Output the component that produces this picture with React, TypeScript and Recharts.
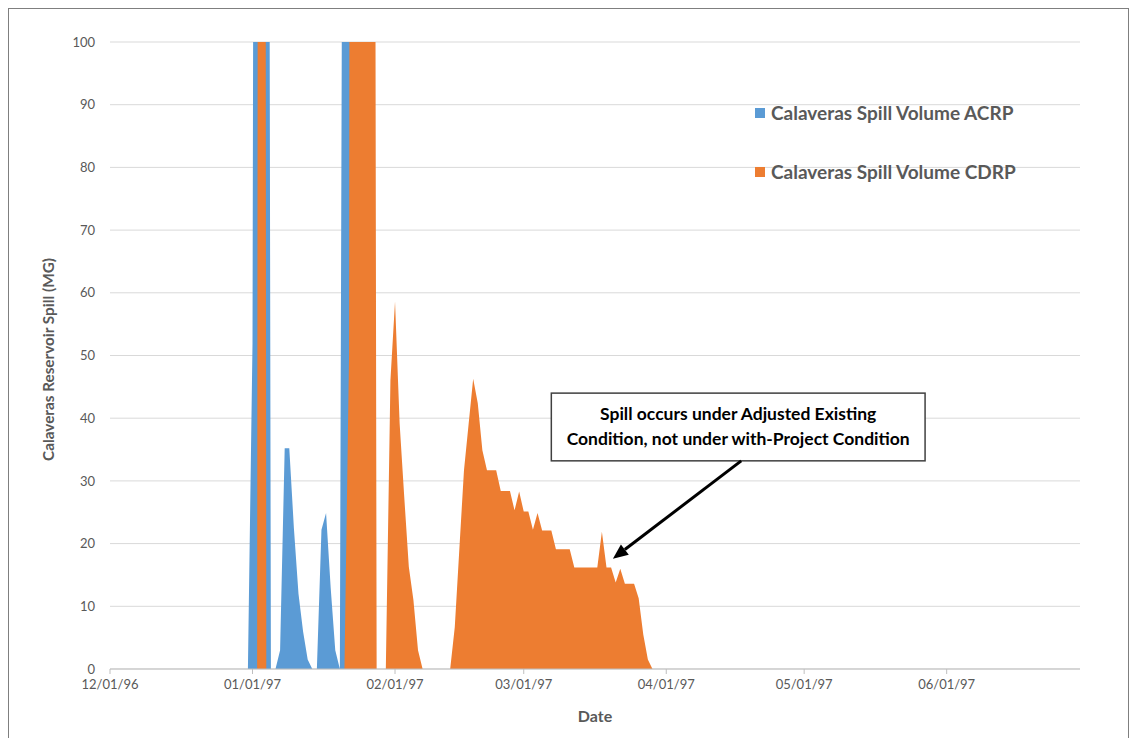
import React from 'react';
import { AreaChart, Area, XAxis, YAxis, CartesianGrid, Legend, ReferenceArea, ReferenceLine } from 'recharts';

// x axis: days counted from 12/01/96
const tickDays = [0, 31, 62, 90, 121, 151, 182];
const tickLabels = ['12/01/96', '01/01/97', '02/01/97', '03/01/97', '04/01/97', '05/01/97', '06/01/97'];
const yTicks = [0, 10, 20, 30, 40, 50, 60, 70, 80, 90, 100];

// daily values start at 12/31/96 (day 30)
const firstDay = 30;

const acrp = [
  0, 52, 420, 610, 380, 0, // 30-35
  0, 3, 35.2, 35.2, 22.5, 12, 6, 1.5, 0, // 36-44
  0, 22.2, 24.9, 13, 3, 0, // 45-50
  240, 520, 690, 560, 330, 180, 0, // 51-57
];

const cdrp = [
  0, 0, 0, 850, 0, // 30-34
  0, 0, 0, 0, 0, 0, 0, 0, 0, 0, 0, 0, 0, 0, 0, 0, // 35-50
  0, 50, 720, 940, 800, 560, 410, 0, 0, // 51-59
  0, 46, 58.6, 39.2, 27.5, 16.3, 11, 3, 0, // 60-68
  0, 0, 0, 0, 0, 0, // 69-74
  6.7, 19.2, 31.7, 39, 46.3, 42.4, 34.9, 31.7, 31.7, 31.7, // 75-84
  28.4, 28.4, 28.4, 25.3, 28.3, 25.1, 25.1, 22.2, 24.9, 22.1, // 85-94
  22.1, 22.1, 19.1, 19.1, 19.1, 19.1, 16.2, 16.2, 16.2, 16.2, // 95-104
  16.2, 16.2, 21.9, 16.2, 16.2, 13.8, 16.0, 13.6, 13.6, 13.6, // 105-114
  11.3, 5.5, 1.5, 0, // 115-118
];

const noteLines = ['Spill occurs under Adjusted Existing', 'Condition, not under with-Project Condition'];

const data = cdrp.map((v, i) => ({
  day: firstDay + i,
  acrp: i < acrp.length ? acrp[i] : null,
  cdrp: v,
}));

const BLUE = '#5B9BD5';
const ORANGE = '#ED7D31';
const GREY = '#595959';
const FONT = 'Lato, "Open Sans", sans-serif';

const Arrow = (props: any) => {
  const { x1, y1, x2, y2 } = props;
  const ang = Math.atan2(y2 - y1, x2 - x1);
  const len = 15;
  const half = 6.5;
  const bx = x2 - len * Math.cos(ang);
  const by = y2 - len * Math.sin(ang);
  const px = -Math.sin(ang) * half;
  const py = Math.cos(ang) * half;
  return (
    <g>
      <line x1={x1} y1={y1} x2={bx} y2={by} stroke="#000" strokeWidth={3} />
      <polygon points={`${x2},${y2} ${bx + px},${by + py} ${bx - px},${by - py}`} fill="#000" />
    </g>
  );
};

const NoteBox = (props: any) => {
  const { x, y, width, height } = props;
  const cx = x + width / 2;
  const cy = y + height / 2;
  return (
    <g>
      <rect x={x} y={y} width={width} height={height} fill="#fff" stroke="#404040" strokeWidth={1.5} />
      <text x={cx} y={cy - 13} textAnchor="middle" dominantBaseline="central" fontSize={17.5} fontWeight="bold" fontFamily={FONT} fill="#000">
        {noteLines[0]}
      </text>
      <text x={cx} y={cy + 12} textAnchor="middle" dominantBaseline="central" fontSize={17.5} fontWeight="bold" fontFamily={FONT} fill="#000">
        {noteLines[1]}
      </text>
    </g>
  );
};

const renderLegend = (props: any) => {
  const { payload } = props;
  return (
    <div style={{ fontFamily: FONT }}>
      {(payload || []).map((entry: any) => (
        <div key={entry.value} style={{ display: 'flex', alignItems: 'center', height: 59 }}>
          <span style={{ display: 'inline-block', width: 10, height: 10, background: entry.color, marginRight: 6 }} />
          <span style={{ fontSize: 19, fontWeight: 'bold', color: GREY }}>{entry.value}</span>
        </div>
      ))}
    </div>
  );
};

const renderYLabel = (props: any) => {
  const { viewBox } = props;
  const cx = 39;
  const cy = viewBox.y + viewBox.height / 2 + 4;
  return (
    <text x={cx} y={cy} transform={`rotate(-90, ${cx}, ${cy})`} textAnchor="middle" dominantBaseline="central" fontSize={15.3} fontWeight="bold" fontFamily={FONT} fill={GREY}>
      Calaveras Reservoir Spill (MG)
    </text>
  );
};

const SpillChart: React.FC = () => {
  return (
    <AreaChart width={1119} height={728} data={data} margin={{ top: 33, right: 48, bottom: 0, left: 0 }} style={{ fontFamily: FONT }}>
      <CartesianGrid vertical={false} stroke="#d9d9d9" />
      <XAxis
        type="number"
        dataKey="day"
        domain={[0, 211]}
        ticks={tickDays}
        interval={0}
        tickFormatter={(v: number) => tickLabels[tickDays.indexOf(v)]}
        height={68}
        tickSize={5}
        tickMargin={6}
        axisLine={{ stroke: '#bfbfbf' }}
        tickLine={{ stroke: '#bfbfbf' }}
        tick={{ fill: GREY, fontSize: 13, fontFamily: FONT }}
        label={{ value: 'Date', position: 'insideBottom', offset: 15, fill: GREY, fontSize: 16, fontWeight: 'bold', fontFamily: FONT }}
      />
      <YAxis
        type="number"
        domain={[0, 100]}
        ticks={yTicks}
        interval={0}
        allowDataOverflow
        width={101}
        axisLine={false}
        tickLine={false}
        tickMargin={9}
        tick={{ fill: GREY, fontSize: 13, fontFamily: FONT }}
        label={renderYLabel}
      />
      <Area
        type="linear"
        dataKey="acrp"
        name="Calaveras Spill Volume ACRP"
        stroke="none"
        fill={BLUE}
        fillOpacity={1}
        isAnimationActive={false}
      />
      <Area
        type="linear"
        dataKey="cdrp"
        name="Calaveras Spill Volume CDRP"
        stroke="none"
        fill={ORANGE}
        fillOpacity={1}
        isAnimationActive={false}
      />
      <ReferenceArea x1={96} x2={177.3} y1={33.2} y2={44} shape={NoteBox} ifOverflow="visible" />
      <ReferenceLine segment={[{ x: 137.3, y: 33.2 }, { x: 109.4, y: 17.6 }]} shape={Arrow} ifOverflow="visible" />
      <Legend
        layout="vertical"
        align="center"
        verticalAlign="middle"
        wrapperStyle={{ left: 746, top: 74, width: 340 }}
        content={renderLegend}
      />
    </AreaChart>
  );
};

export default function App() {
  return (
    <>
      <style>{'html,body{margin:0;overflow:hidden;}'}</style>
      <div
        style={{
          position: 'absolute',
          left: 8,
          top: 8,
          width: 1121,
          height: 740,
          boxSizing: 'border-box',
          border: '1px solid #7f7f7f',
          background: '#fff',
        }}
      >
        <SpillChart />
      </div>
    </>
  );
}
